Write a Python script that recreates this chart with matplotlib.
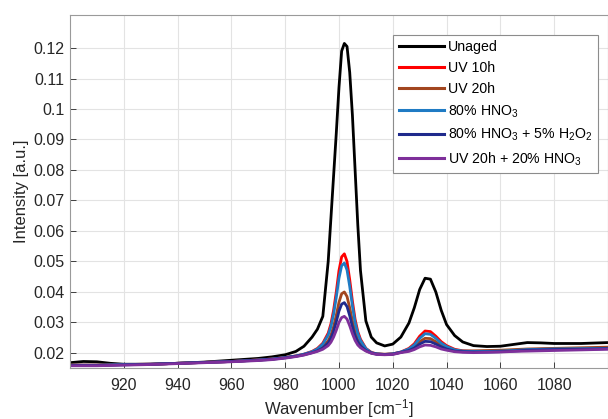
import matplotlib
matplotlib.use("Agg")
import matplotlib.pyplot as plt
from matplotlib.ticker import FormatStrFormatter

plt.rcParams['font.family'] = ['Liberation Sans', 'DejaVu Sans']
plt.rcParams['mathtext.default'] = 'regular'

# wavenumber grid (cm^-1) shared by all spectra
wn = [900, 905, 910, 915, 920, 930, 940, 950, 960, 970, 975, 980, 984, 987, 990,
      992, 994, 996, 997, 998, 999, 1000, 1001, 1002, 1003, 1004, 1005, 1006, 1007,
      1008, 1010, 1012, 1014, 1017, 1020, 1023, 1026, 1028, 1030, 1032, 1034, 1036,
      1038, 1040, 1043, 1046, 1050, 1055, 1060, 1065, 1070, 1075, 1080, 1090, 1100]

unaged = [0.0168, 0.0172, 0.0171, 0.0166, 0.0163, 0.0163, 0.0166, 0.0170, 0.0176, 0.0182,
          0.0187, 0.0194, 0.0205, 0.0222, 0.0252, 0.0278, 0.0320, 0.0500, 0.0640, 0.0780,
          0.0920, 0.1070, 0.1190, 0.1215, 0.1205, 0.1120, 0.0980, 0.0800, 0.0620, 0.0470,
          0.0305, 0.0252, 0.0233, 0.0223, 0.0229, 0.0252, 0.0298, 0.0348, 0.0408, 0.0445,
          0.0442, 0.0400, 0.0340, 0.0293, 0.0257, 0.0236, 0.0224, 0.0221, 0.0222, 0.0228,
          0.0234, 0.0233, 0.0231, 0.0231, 0.0234]

uv10 = [0.0160, 0.0160, 0.0160, 0.0161, 0.0162, 0.0163, 0.0166, 0.0169, 0.0172, 0.0177,
        0.0180, 0.0185, 0.0190, 0.0196, 0.0205, 0.0215, 0.0232, 0.0265, 0.0295, 0.0340,
        0.0400, 0.0470, 0.0515, 0.0525, 0.0500, 0.0440, 0.0370, 0.0310, 0.0270, 0.0245,
        0.0215, 0.0202, 0.0197, 0.0195, 0.0197, 0.0203, 0.0215, 0.0230, 0.0255, 0.0272,
        0.0270, 0.0255, 0.0237, 0.0224, 0.0212, 0.0207, 0.0205, 0.0205, 0.0206, 0.0208,
        0.0211, 0.0212, 0.0213, 0.0214, 0.0216]

uv20 = [0.0160, 0.0160, 0.0160, 0.0161, 0.0162, 0.0163, 0.0166, 0.0169, 0.0172, 0.0177,
        0.0180, 0.0185, 0.0190, 0.0195, 0.0202, 0.0209, 0.0220, 0.0240, 0.0258, 0.0286,
        0.0323, 0.0366, 0.0394, 0.0400, 0.0385, 0.0348, 0.0305, 0.0268, 0.0243, 0.0228,
        0.0209, 0.0200, 0.0197, 0.0196, 0.0197, 0.0202, 0.0210, 0.0220, 0.0237, 0.0248,
        0.0247, 0.0237, 0.0225, 0.0216, 0.0209, 0.0206, 0.0207, 0.0208, 0.0209, 0.0211,
        0.0213, 0.0214, 0.0215, 0.0217, 0.0219]

hno3 = [0.0160, 0.0160, 0.0160, 0.0161, 0.0162, 0.0163, 0.0166, 0.0169, 0.0172, 0.0177,
        0.0180, 0.0185, 0.0190, 0.0196, 0.0204, 0.0213, 0.0229, 0.0259, 0.0286, 0.0327,
        0.0382, 0.0445, 0.0486, 0.0495, 0.0472, 0.0418, 0.0354, 0.0300, 0.0264, 0.0241,
        0.0214, 0.0201, 0.0197, 0.0195, 0.0197, 0.0203, 0.0213, 0.0226, 0.0248, 0.0263,
        0.0261, 0.0248, 0.0232, 0.0221, 0.0210, 0.0206, 0.0205, 0.0205, 0.0206, 0.0208,
        0.0211, 0.0212, 0.0213, 0.0214, 0.0215]

hno3_h2o2 = [0.0159, 0.0159, 0.0159, 0.0160, 0.0161, 0.0163, 0.0166, 0.0169, 0.0172, 0.0176,
             0.0179, 0.0184, 0.0189, 0.0194, 0.0201, 0.0207, 0.0216, 0.0233, 0.0248, 0.0271,
             0.0302, 0.0337, 0.0360, 0.0365, 0.0352, 0.0322, 0.0286, 0.0256, 0.0236, 0.0223,
             0.0208, 0.0200, 0.0196, 0.0195, 0.0196, 0.0202, 0.0208, 0.0216, 0.0229, 0.0238,
             0.0237, 0.0229, 0.0220, 0.0213, 0.0206, 0.0204, 0.0203, 0.0203, 0.0204, 0.0206,
             0.0209, 0.0210, 0.0211, 0.0212, 0.0214]

uv20_hno3 = [0.0158, 0.0158, 0.0158, 0.0159, 0.0160, 0.0162, 0.0165, 0.0168, 0.0171, 0.0175,
             0.0178, 0.0183, 0.0188, 0.0193, 0.0200, 0.0205, 0.0212, 0.0224, 0.0235, 0.0252,
             0.0274, 0.0300, 0.0316, 0.0320, 0.0311, 0.0289, 0.0263, 0.0241, 0.0226, 0.0217,
             0.0206, 0.0199, 0.0195, 0.0194, 0.0195, 0.0201, 0.0205, 0.0211, 0.0220, 0.0226,
             0.0225, 0.0220, 0.0213, 0.0209, 0.0204, 0.0202, 0.0201, 0.0202, 0.0203, 0.0205,
             0.0206, 0.0207, 0.0208, 0.0210, 0.0212]

series = [
    (unaged, 'Unaged', '#000000'),
    (uv10, 'UV 10h', '#ff0000'),
    (uv20, 'UV 20h', '#a2461f'),
    (hno3, '80% HNO$_3$', '#1f7bc4'),
    (hno3_h2o2, '80% HNO$_3$ + 5% H$_2$O$_2$', '#1f2a8c'),
    (uv20_hno3, 'UV 20h + 20% HNO$_3$', '#7e2f9a'),
]

fig = plt.figure(figsize=(6.08, 4.19), dpi=100)
ax = fig.add_axes([0.115, 0.122, 0.885, 0.842])

for y, lab, col in series:
    ax.plot(wn, y, color=col, lw=2.0, label=lab, solid_joinstyle='round')

ax.set_xlim(900, 1100)
ax.set_ylim(0.0151, 0.1308)
ax.set_xticks(range(920, 1081, 20))
ax.set_yticks([0.02, 0.03, 0.04, 0.05, 0.06, 0.07, 0.08, 0.09, 0.1, 0.11, 0.12])
ax.yaxis.set_major_formatter(FormatStrFormatter('%g'))
ax.grid(True, color='#e3e3e3', lw=0.8)
ax.set_axisbelow(True)
ax.tick_params(direction='in', length=4, width=0.6, colors='#262626',
               labelsize=11.5, top=False, right=False)
ax.tick_params(axis='x', pad=7)
ax.tick_params(axis='y', pad=4)
for sp in ax.spines.values():
    sp.set_color('#9a9a9a')
    sp.set_linewidth(0.8)

ax.set_xlabel('Wavenumber [cm$^{-1}$]', fontsize=12, color='#262626', labelpad=3)
ax.set_ylabel('Intensity [a.u.]', fontsize=12, color='#262626', labelpad=3)

leg = ax.legend(loc='upper right', bbox_to_anchor=(0.995, 0.965), fontsize=10.2,
                frameon=True, fancybox=False, edgecolor='#8c8c8c', framealpha=1,
                handlelength=3.2, handletextpad=0.3, borderpad=0.4, labelspacing=0.5)
leg.get_frame().set_linewidth(0.8)
for line in leg.get_lines():
    line.set_linewidth(2.2)

fig.savefig('out.png', dpi=100)
